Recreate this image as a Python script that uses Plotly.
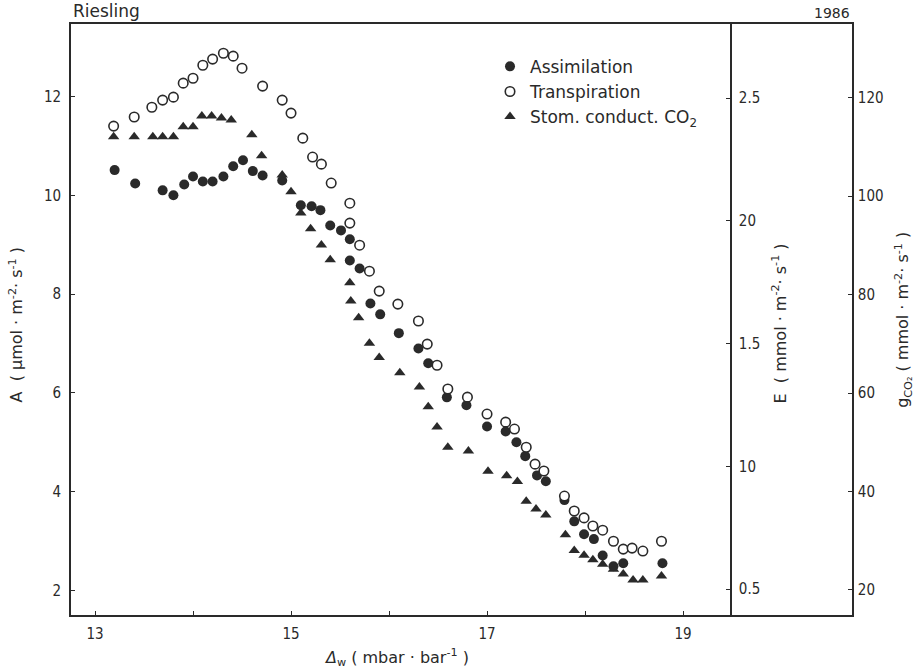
import plotly.graph_objects as go

# Water vapour concentration difference (mbar/bar) for each series
dw_assim = [13.20, 13.41, 13.69, 13.80, 13.91, 14.00, 14.10, 14.20, 14.31, 14.41,
            14.51, 14.61, 14.71, 14.91, 15.10, 15.21, 15.30, 15.40, 15.51, 15.60,
            15.60, 15.70, 15.81, 15.91, 16.10, 16.30, 16.40, 16.59, 16.79, 17.00,
            17.19, 17.30, 17.39, 17.51, 17.60, 17.79, 17.89, 17.99, 18.09, 18.18,
            18.29, 18.39, 18.79]
assimilation = [10.51, 10.24, 10.10, 10.00, 10.22, 10.38, 10.28, 10.28, 10.38, 10.59,
                10.71, 10.49, 10.40, 10.30, 9.80, 9.78, 9.70, 9.39, 9.29, 9.11,
                8.68, 8.52, 7.81, 7.59, 7.21, 6.90, 6.60, 5.91, 5.75, 5.32,
                5.22, 5.00, 4.72, 4.33, 4.21, 3.83, 3.40, 3.14, 3.04, 2.71,
                2.49, 2.55, 2.55]

dw_transp = [13.19, 13.40, 13.58, 13.69, 13.80, 13.90, 14.00, 14.10, 14.20, 14.31,
             14.41, 14.50, 14.71, 14.91, 15.00, 15.12, 15.22, 15.31, 15.41, 15.60,
             15.60, 15.70, 15.80, 15.90, 16.09, 16.30, 16.39, 16.49, 16.60, 16.80,
             17.00, 17.19, 17.28, 17.40, 17.49, 17.58, 17.79, 17.89, 17.99, 18.08,
             18.18, 18.29, 18.39, 18.48, 18.59, 18.78]
transpiration = [2.386, 2.423, 2.463, 2.492, 2.504, 2.561, 2.581, 2.634, 2.659, 2.683,
                 2.671, 2.622, 2.549, 2.492, 2.439, 2.337, 2.260, 2.231, 2.154, 2.072,
                 1.991, 1.901, 1.795, 1.714, 1.661, 1.592, 1.498, 1.412, 1.315, 1.282,
                 1.213, 1.180, 1.152, 1.078, 1.009, 0.981, 0.879, 0.818, 0.790, 0.757,
                 0.740, 0.695, 0.663, 0.667, 0.655, 0.695]

dw_gs = [13.19, 13.40, 13.59, 13.69, 13.80, 13.90, 14.00, 14.09, 14.19, 14.29,
         14.39, 14.60, 14.70, 14.91, 15.00, 15.10, 15.20, 15.31, 15.40, 15.60,
         15.61, 15.69, 15.80, 15.90, 16.11, 16.31, 16.40, 16.49, 16.60, 16.81,
         17.01, 17.20, 17.31, 17.40, 17.50, 17.60, 17.80, 17.89, 17.99, 18.08,
         18.18, 18.29, 18.39, 18.49, 18.59, 18.78]
stom_conductance = [112.1, 112.1, 112.1, 112.1, 112.1, 114.1, 114.1, 116.3, 116.3, 115.9,
                    115.5, 112.5, 108.2, 104.3, 100.9, 96.6, 93.4, 90.1, 87.1, 82.4,
                    78.7, 75.3, 70.1, 67.2, 64.1, 61.2, 57.2, 53.1, 49.0, 48.2,
                    44.1, 43.2, 42.0, 38.0, 36.4, 35.2, 31.2, 28.0, 27.0, 26.1,
                    25.2, 24.2, 23.2, 22.0, 22.0, 22.8]

x_major_ticks = [13, 15, 17, 19]
x_minor_ticks = [14, 16, 18]
a_ticks = [2, 4, 6, 8, 10, 12]
e_ticks = [0.5, 1.0, 1.5, 2.0, 2.5]
e_ticklabels = ["0.5", "10", "1.5", "20", "2.5"]
g_ticks = [20, 40, 60, 80, 100, 120]

INK = "#2a2a2a"
NUM_FONT = dict(family="Liberation Sans Narrow, DejaVu Sans Condensed, Roboto, sans-serif",
                size=15, color=INK)
TXT_FONT = dict(family="DejaVu Sans, sans-serif", size=16, color=INK)
LEG_FONT = dict(family="DejaVu Sans, sans-serif", size=17, color=INK)

fig = go.Figure()

fig.add_trace(go.Scatter(
    x=dw_assim, y=assimilation, mode="markers", name="Assimilation",
    marker=dict(symbol="circle", size=10, color=INK, line=dict(width=0)),
    yaxis="y"))
fig.add_trace(go.Scatter(
    x=dw_transp, y=transpiration, mode="markers", name="Transpiration",
    marker=dict(symbol="circle", size=9.5, color="white", line=dict(width=1.6, color=INK)),
    yaxis="y2"))
fig.add_trace(go.Scatter(
    x=dw_gs, y=stom_conductance, mode="markers", name="Stom. conduct. CO<sub>2</sub>",
    marker=dict(symbol="triangle-up", size=10, color=INK, line=dict(width=0)),
    yaxis="y3"))

axis_common = dict(showgrid=False, zeroline=False, showline=True, linecolor=INK,
                   linewidth=1.6, ticks="inside", ticklen=4, tickwidth=1.4,
                   tickcolor=INK, tickfont=NUM_FONT)

e_line_x = 19.49
x_range = [12.755, 20.724]
e_pos = (e_line_x - x_range[0]) / (x_range[1] - x_range[0])

fig.update_layout(
    width=924, height=671,
    margin=dict(l=71, r=72, t=24, b=56),
    paper_bgcolor="white", plot_bgcolor="white",
    showlegend=True,
    legend=dict(x=0.5365, y=0.958, xanchor="left", yanchor="top",
                bgcolor="rgba(0,0,0,0)", font=LEG_FONT, itemwidth=30),
    xaxis=dict(range=x_range, tickmode="array", tickvals=x_major_ticks,
               minor=dict(tickmode="array", tickvals=x_minor_ticks, ticks="inside",
                          ticklen=4, tickwidth=1.4, tickcolor=INK, showgrid=False),
               mirror=True, ticklabelstandoff=4, **axis_common),
    yaxis=dict(range=[1.504, 13.468], tickvals=a_ticks, ticklabelstandoff=5,
               **axis_common),
    yaxis2=dict(range=[0.3945, 2.802], tickvals=e_ticks, ticktext=e_ticklabels,
                overlaying="y", anchor="free", position=e_pos, side="right",
                ticklabelstandoff=4, **axis_common),
    yaxis3=dict(range=[14.88, 135.0], tickvals=g_ticks,
                overlaying="y", anchor="x", side="right",
                ticklabelstandoff=1, **axis_common),
)

annotations = [
    dict(text="Riesling", x=0, y=1, xref="paper", yref="paper",
         xanchor="left", yanchor="bottom", yshift=1, showarrow=False,
         font=dict(family="DejaVu Sans, sans-serif", size=17, color=INK)),
    dict(text="1986", x=1, y=1, xref="paper", yref="paper",
         xanchor="right", yanchor="bottom", yshift=1, showarrow=False,
         font=dict(family="DejaVu Sans, sans-serif", size=14, color=INK)),
    dict(text="A  ( μmol · m<sup>-2</sup>· s<sup>-1</sup> )", textangle=-90,
         x=-0.0704, y=0.49, xref="paper", yref="paper",
         xanchor="center", yanchor="middle", showarrow=False, font=TXT_FONT),
    dict(text="E  ( mmol · m<sup>-2</sup>· s<sup>-1</sup> )", textangle=-90,
         x=0.907, y=0.494, xref="paper", yref="paper",
         xanchor="center", yanchor="middle", showarrow=False, font=TXT_FONT),
    dict(text="g<sub>CO₂</sub> ( mmol · m<sup>-2</sup>· s<sup>-1</sup> )", textangle=-90,
         x=1.065, y=0.499, xref="paper", yref="paper",
         xanchor="center", yanchor="middle", showarrow=False, font=TXT_FONT),
    dict(text="<i>Δ</i><sub>w</sub> ( mbar · bar<sup>-1</sup> )",
         x=0.4165, y=-0.0711, xref="paper", yref="paper",
         xanchor="center", yanchor="middle", showarrow=False, font=TXT_FONT),
]
fig.update_layout(annotations=annotations)

fig.write_html("out.html")
